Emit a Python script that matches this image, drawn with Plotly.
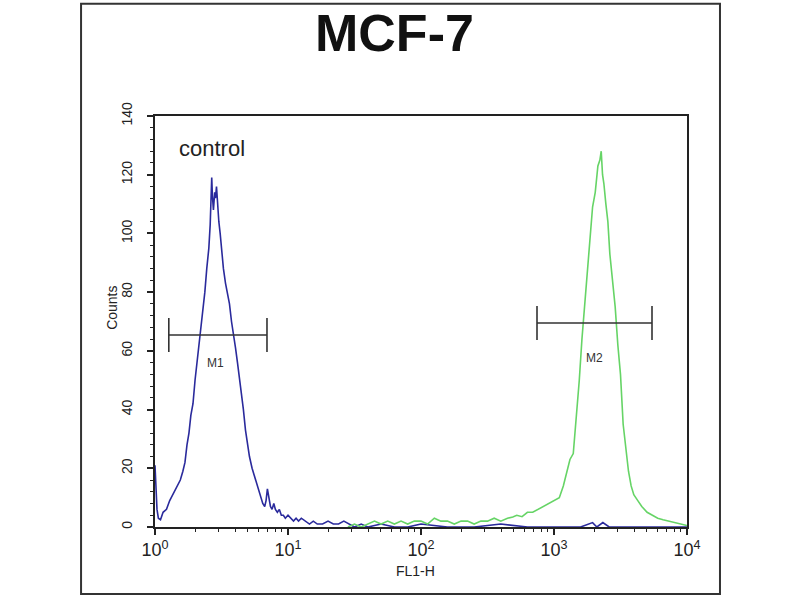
import math
import plotly.graph_objects as go

# control histogram (blue)
control_fl1 = [1.00, 1.02, 1.035, 1.06, 1.10, 1.15, 1.22, 1.29, 1.36, 1.46, 1.55, 1.62,
               1.68, 1.74, 1.80, 1.86, 1.93, 2.00, 2.07, 2.14, 2.21, 2.29, 2.37, 2.45,
               2.54, 2.60, 2.63, 2.67, 2.70, 2.75, 2.81, 2.85, 2.90, 2.95, 3.02, 3.09,
               3.16, 3.27, 3.39, 3.51, 3.63, 3.76, 3.89, 4.03, 4.17, 4.32, 4.47, 4.62,
               4.79, 4.95, 5.13, 5.37, 5.62, 5.89, 6.17, 6.46, 6.68, 6.84, 7.00, 7.16,
               7.38, 7.59, 7.82, 8.04, 8.32, 8.61, 8.91, 9.23, 9.55, 10.0, 10.5, 11.0,
               11.5, 12.0, 12.6, 13.5, 14.5, 15.5, 16.6, 18.2, 20.0, 21.9, 24.0, 26.3,
               28.8, 31.6, 35.5, 39.8, 50.1, 63.1, 79.4, 100, 158, 251, 398, 631, 1000,
               1585, 1950, 2100, 2330, 2600, 3981, 6310, 10000]
control_counts = [21, 12, 6, 3, 2.5, 5, 6, 9, 11, 14, 16, 19,
                  22, 28, 32, 38, 42, 50, 56, 62, 68, 75, 80, 88,
                  95, 103, 112, 119, 113, 108, 114, 112, 116, 110, 104, 100,
                  95, 88, 83, 80, 76, 70, 66, 61, 56, 51, 46, 40,
                  33, 28, 24, 20, 17, 14, 11, 8, 7, 9, 13, 10,
                  7, 6, 8, 6, 5, 6, 4, 4, 3, 4, 3, 2,
                  3, 2, 3, 2, 1, 2, 1, 1, 2, 1, 1, 2,
                  1, 0, 1, 0, 1, 0, 0, 1, 0, 0, 1, 0, 0,
                  0, 1.5, 0, 1.5, 0, 0, 0, 0]

# sample histogram (green)
sample_fl1 = [28.2, 31.6, 35.5, 39.8, 44.7, 50.1, 56.2, 63.1, 70.8, 79.4, 89.1, 100,
              112, 126, 141, 158, 178, 200, 224, 251, 282, 316, 355, 398, 447, 490,
              525, 575, 631, 692, 759, 832, 912, 1000, 1096, 1175, 1259, 1318, 1396,
              1445, 1496, 1549, 1622, 1698, 1778, 1862, 1950, 2042, 2138, 2213, 2265,
              2317, 2371, 2455, 2541, 2630, 2754, 2884, 3020, 3162, 3311, 3467, 3631,
              3802, 3981, 4266, 4571, 5012, 5495, 6026, 6607, 7244, 7943, 8913, 10000]
sample_counts = [0, 1, 0, 1, 2, 1, 2, 1, 2, 1, 2, 2,
                 1, 3, 2, 2, 1, 2, 2, 1, 2, 2, 3, 2, 3, 3.4,
                 4, 3.5, 5, 5, 6, 7, 8, 9, 10, 14, 19, 23, 25,
                 33, 41, 50, 64, 75, 86, 98, 109, 114, 123, 125, 128,
                 120, 117, 110, 104, 93, 84, 75, 62, 52, 35, 26, 19,
                 14, 11, 9, 7, 5, 4, 3, 2.5, 2, 1.5, 1, 0.5]

# marker gates
gate_names = ["M1", "M2"]
gate_lo = [1.27, 745]
gate_hi = [6.95, 5456]
gate_level = [65.4, 69.5]
gate_label_x = [2.83, 2033]
gate_label_y = [56, 57.5]
cap_half = 5.8

x_tickvals = [1, 10, 100, 1000, 10000]
x_ticktext = ["10<sup>0</sup>", "10<sup>1</sup>", "10<sup>2</sup>", "10<sup>3</sup>", "10<sup>4</sup>"]
x_minor = [m * 10 ** k for k in range(4) for m in range(2, 10)]

FONT = "Liberation Sans, Arial, sans-serif"

fig = go.Figure()
fig.add_trace(go.Scatter(x=control_fl1, y=control_counts, mode="lines",
                         line=dict(color="#2a2a9c", width=1.6), showlegend=False))
fig.add_trace(go.Scatter(x=sample_fl1, y=sample_counts, mode="lines",
                         line=dict(color="#66d466", width=1.6), showlegend=False))

for name, lo, hi, lvl, lx, ly in zip(gate_names, gate_lo, gate_hi, gate_level,
                                     gate_label_x, gate_label_y):
    fig.add_trace(go.Scatter(
        x=[lo, lo, lo, hi, hi, hi],
        y=[lvl - cap_half, lvl + cap_half, lvl, lvl, lvl + cap_half, lvl - cap_half],
        mode="lines", line=dict(color="#333333", width=1.6), showlegend=False))
    # annotations on a log axis take log10 positions
    fig.add_annotation(x=math.log10(lx), y=ly, xref="x", yref="y", text=name,
                       showarrow=False, xanchor="center", yanchor="middle",
                       font=dict(family=FONT, size=12, color="#333"))

fig.update_layout(
    width=800, height=600,
    margin=dict(l=155, r=113, t=116, b=73),
    paper_bgcolor="white", plot_bgcolor="white",
    font=dict(family=FONT, color="#222"),
    xaxis=dict(type="log", range=[0, 4], tickmode="array", tickvals=x_tickvals,
               ticktext=x_ticktext, ticks="outside", ticklen=6, tickwidth=1.5,
               tickcolor="#222", showline=True, linecolor="#222", linewidth=1.6,
               mirror=True, showgrid=False, zeroline=False,
               tickfont=dict(size=18, color="#222"),
               minor=dict(tickmode="array", tickvals=x_minor, ticks="outside",
                          ticklen=3, tickwidth=1.2, tickcolor="#222", showgrid=False)),
    yaxis=dict(range=[0, 140], dtick=20, tick0=0, tickangle=-90, ticks="outside",
               ticklen=6, tickwidth=1.5, tickcolor="#222", showline=True,
               linecolor="#222", linewidth=1.6, mirror=True, showgrid=False,
               zeroline=False, tickfont=dict(size=14, color="#222"),
               ticklabelstandoff=10,
               minor=dict(dtick=4, ticks="outside", ticklen=3, tickwidth=1.2,
                          tickcolor="#222", showgrid=False)),
)

# outer frame
fig.add_shape(type="rect", xref="paper", yref="paper",
              x0=-0.139, x1=1.062, y0=-0.163, y1=1.273,
              line=dict(color="#333", width=2))

fig.add_annotation(x=0.451, y=1.202, xref="paper", yref="paper", text="<b>MCF-7</b>",
                   showarrow=False, xanchor="center", yanchor="middle",
                   font=dict(family=FONT, size=52, color="#111"))
fig.add_annotation(x=0.041, y=0.92, xref="paper", yref="paper", text="control",
                   xanchor="left", yanchor="middle", showarrow=False,
                   font=dict(family=FONT, size=22, color="#222"))
fig.add_annotation(x=-0.081, y=0.533, xref="paper", yref="paper", text="Counts",
                   textangle=-90, showarrow=False, xanchor="center", yanchor="middle",
                   font=dict(family=FONT, size=14, color="#222"))
fig.add_annotation(x=0.489, y=-0.107, xref="paper", yref="paper", text="FL1-H",
                   showarrow=False, xanchor="center", yanchor="middle",
                   font=dict(family=FONT, size=14, color="#222"))

# drop the page's default body margin so the figure sits at the window corner
fig.write_html("out.html", config={"displayModeBar": False},
               post_script="document.body.style.margin='0';")
